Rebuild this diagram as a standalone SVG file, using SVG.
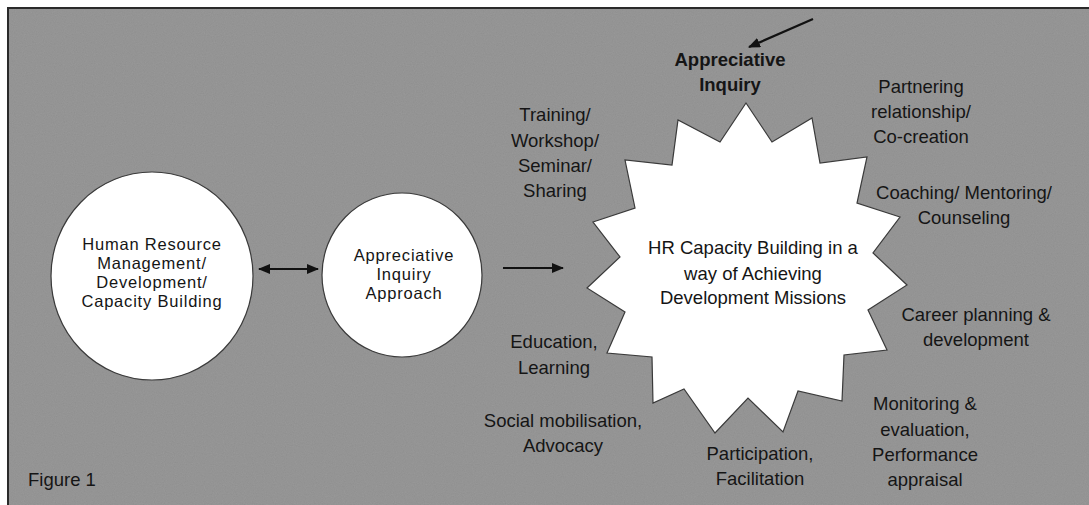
<svg xmlns="http://www.w3.org/2000/svg" width="1089" height="505" viewBox="0 0 1089 505">
  <defs>
    <style>
      .lbl { font-family: "Liberation Sans", Arial, Helvetica, sans-serif; font-size: 18.5px; fill: #151515; text-anchor: middle; }
      .tight { font-size: 16.5px; letter-spacing: 0.8px; }
      .bold { font-weight: bold; }
      .shape { fill: #ffffff; stroke: #3a3a3a; stroke-width: 1.2; }
      .conn { stroke: #111111; stroke-width: 2.2; fill: none; }
    </style>
    <marker id="head" viewBox="0 0 12 10" refX="11" refY="5" markerWidth="12" markerHeight="10" markerUnits="userSpaceOnUse" orient="auto-start-reverse">
      <path d="M0,0 L12,5 L0,10 Z" fill="#111111"/>
    </marker>
    <filter id="grain" x="0" y="0" width="100%" height="100%">
      <feTurbulence type="fractalNoise" baseFrequency="0.9" numOctaves="2" seed="3" result="n"/>
      <feColorMatrix in="n" type="matrix" values="0 0 0 0 0.55  0 0 0 0 0.55  0 0 0 0 0.55  0 0 0 0.18 0" result="g"/>
      <feComposite in="g" in2="SourceGraphic" operator="atop"/>
    </filter>
  </defs>

  <!-- page and framed panel -->
  <rect x="0" y="0" width="1089" height="505" fill="#ffffff"/>
  <rect x="8" y="8" width="1081" height="497" fill="#8e8e8e" filter="url(#grain)"/>
  <path d="M8,505 L8,8 L1089,8" fill="none" stroke="#2a2a2a" stroke-width="2"/>

  <!-- connectors -->
  <g id="connectors">
    <line class="conn" x1="259" y1="269" x2="318" y2="269" marker-start="url(#head)" marker-end="url(#head)"/>
    <line class="conn" x1="503" y1="268" x2="563" y2="268" marker-end="url(#head)"/>
    <line class="conn" x1="813" y1="19" x2="749" y2="47" marker-end="url(#head)"/>
  </g>

  <g id="hrm">
    <ellipse class="shape" cx="152" cy="276" rx="101" ry="104"/>
    <text class="lbl tight" x="152" y="249.5">Human Resource</text>
    <text class="lbl tight" x="152" y="268.5">Management/</text>
    <text class="lbl tight" x="152" y="287.5">Development/</text>
    <text class="lbl tight" x="152" y="306.5">Capacity Building</text>
  </g>

  <g id="ai-approach">
    <ellipse class="shape" cx="402" cy="275" rx="80" ry="82"/>
    <text class="lbl tight" x="404" y="261">Appreciative</text>
    <text class="lbl tight" x="404" y="280">Inquiry</text>
    <text class="lbl tight" x="404" y="299">Approach</text>
  </g>

  <g id="hr-capacity">
    <polygon class="shape" points="746,103 772,142 812,118 820,163 867,157 857,203 900,217 873,253 907,285 868,310 887,350 844,355 842,401 798,391 783,432 748,398 715,433 684,389 653,403 652,357 607,353 625,312 587,288 620,257 593,222 635,208 625,160 672,165 678,120 720,142"/>
    <text class="lbl" x="753" y="254">HR Capacity Building in a</text>
    <text class="lbl" x="753" y="280">way of Achieving</text>
    <text class="lbl" x="753" y="304">Development Missions</text>
  </g>

  <g id="appreciative-inquiry">
    <text class="lbl bold" x="730" y="66">Appreciative</text>
    <text class="lbl bold" x="730" y="91">Inquiry</text>
  </g>

  <g id="training">
    <text class="lbl" x="555" y="121">Training/</text>
    <text class="lbl" x="555" y="147">Workshop/</text>
    <text class="lbl" x="555" y="172">Seminar/</text>
    <text class="lbl" x="555" y="197">Sharing</text>
  </g>

  <g id="partnering">
    <text class="lbl" x="921" y="93">Partnering</text>
    <text class="lbl" x="921" y="118">relationship/</text>
    <text class="lbl" x="921" y="143">Co-creation</text>
  </g>

  <g id="coaching">
    <text class="lbl" x="964" y="199">Coaching/ Mentoring/</text>
    <text class="lbl" x="964" y="224">Counseling</text>
  </g>

  <g id="career">
    <text class="lbl" x="976" y="321">Career planning &amp;</text>
    <text class="lbl" x="976" y="346">development</text>
  </g>

  <g id="education">
    <text class="lbl" x="554" y="348">Education,</text>
    <text class="lbl" x="554" y="374">Learning</text>
  </g>

  <g id="social">
    <text class="lbl" x="563" y="427">Social mobilisation,</text>
    <text class="lbl" x="563" y="452">Advocacy</text>
  </g>

  <g id="participation">
    <text class="lbl" x="760" y="460">Participation,</text>
    <text class="lbl" x="760" y="485">Facilitation</text>
  </g>

  <g id="monitoring">
    <text class="lbl" x="925" y="410">Monitoring &amp;</text>
    <text class="lbl" x="925" y="436">evaluation,</text>
    <text class="lbl" x="925" y="461">Performance</text>
    <text class="lbl" x="925" y="486">appraisal</text>
  </g>

  <g id="caption">
    <text class="lbl" x="28" y="486" style="text-anchor:start">Figure 1</text>
  </g>
</svg>
